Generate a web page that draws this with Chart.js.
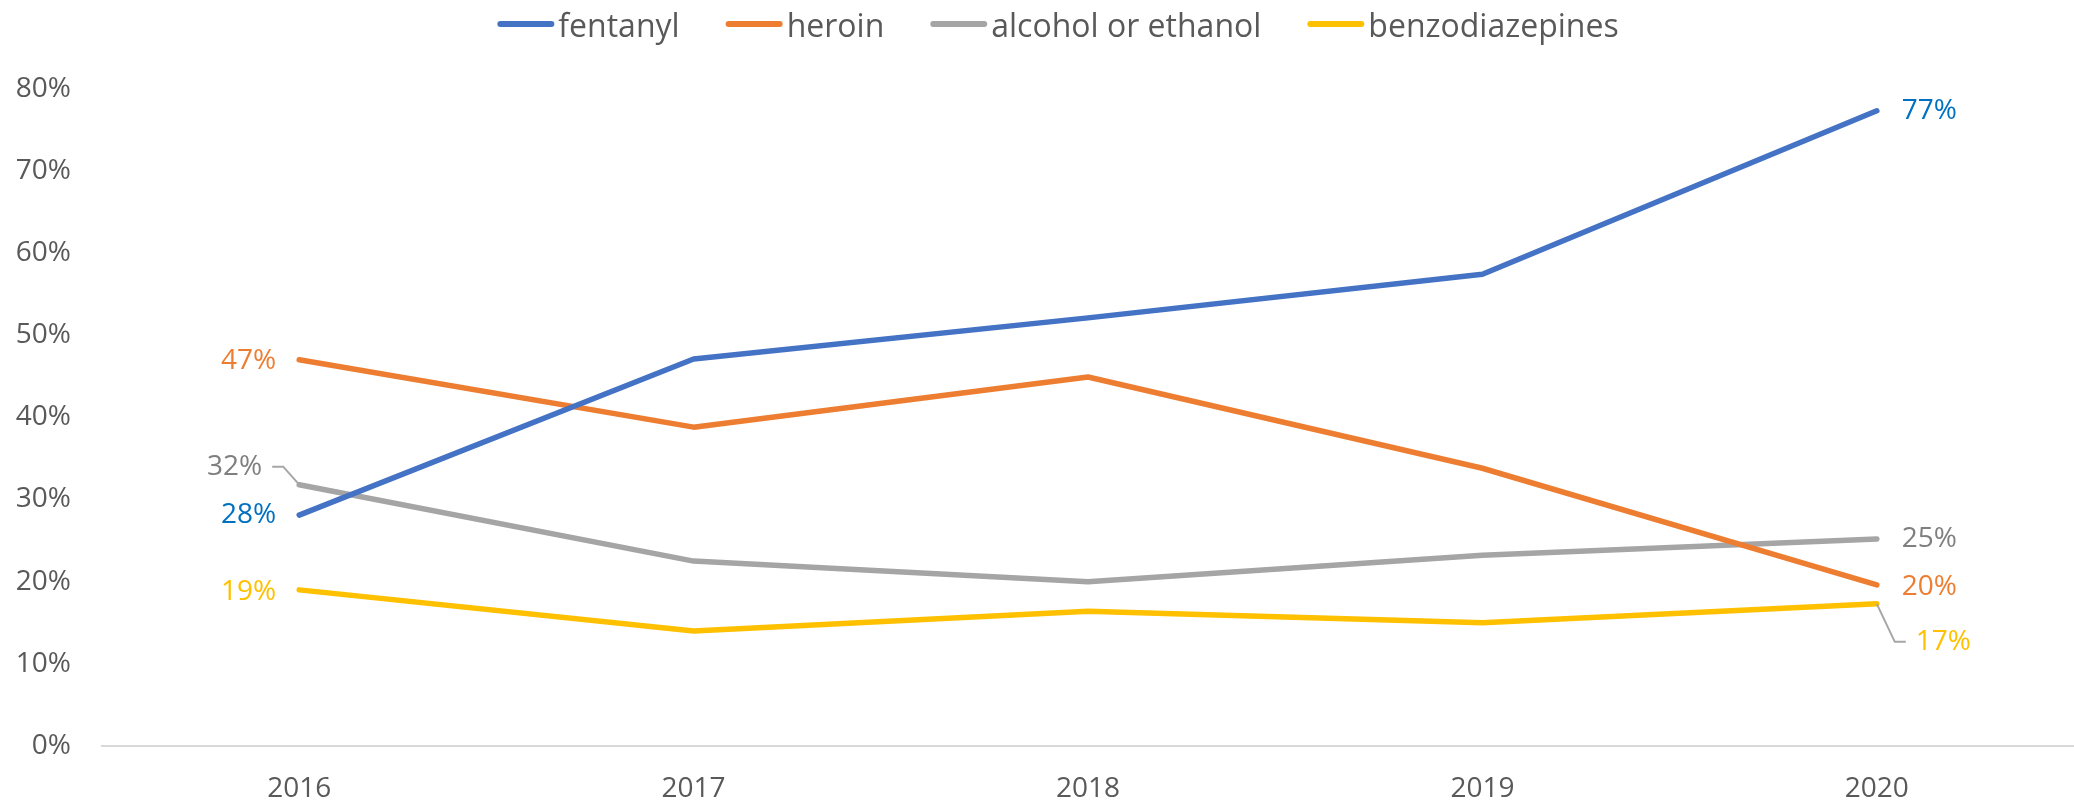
<!DOCTYPE html>
<html>
<head>
<meta charset="utf-8">
<script src="https://cdn.jsdelivr.net/npm/chart.js@4/dist/chart.umd.min.js"></script>
<style>
  html, body { margin: 0; padding: 0; background: #ffffff; }
  #wrap { width: 2074px; height: 804px; }
</style>
</head>
<body>
<div id="wrap"><canvas id="chart1"></canvas></div>
<script>
const years = ['2016', '2017', '2018', '2019', '2020'];
const fentanyl = [28.1, 47.1, 52.1, 57.4, 77.3];
const heroin = [47.0, 38.8, 44.9, 33.8, 19.6];
const alcohol = [31.8, 22.5, 20.0, 23.2, 25.2];
const benzos = [19.0, 14.0, 16.4, 15.0, 17.3];
const yTicks = [0, 10, 20, 30, 40, 50, 60, 70, 80];

const FONT = '"Open Sans", "Liberation Sans", sans-serif';
const TEXT_GRAY = '#595959';

// where the end labels sit relative to their point (first / last point)
const labelSpots = {
    fentanyl: { first: { dx: -23, dy: 0 }, last: { dx: 25, dy: 0 } },
    heroin: { first: { dx: -23, dy: 1 }, last: { dx: 25, dy: 2 } },
    alcohol: { first: { dx: -37, dy: -18, leader: true }, last: { dx: 25, dy: 0 } },
    benzos: { first: { dx: -23, dy: 2 }, last: { dx: 39, dy: 38, leader: true } }
};

function makeSet(key, label, data, color, labelColor) {
    return {
        key: key,
        label: label,
        data: data,
        borderColor: color,
        backgroundColor: color,
        labelColor: labelColor,
        borderWidth: 5.5,
        borderCapStyle: 'round',
        borderJoinStyle: 'round',
        pointRadius: 0,
        pointHoverRadius: 0,
        tension: 0,
        fill: false
    };
}

const endLabels = {
    id: 'endLabels',
    afterDatasetsDraw(chart) {
        const ctx = chart.ctx;
        ctx.save();
        ctx.font = '28px ' + FONT;
        ctx.textBaseline = 'middle';
        chart.data.datasets.forEach((ds, i) => {
            const meta = chart.getDatasetMeta(i);
            const spots = labelSpots[ds.key];
            [['first', 0], ['last', ds.data.length - 1]].forEach(([which, idx]) => {
                const pt = meta.data[idx];
                const spot = spots[which];
                const tx = pt.x + spot.dx;
                const ty = pt.y + spot.dy;
                if (spot.leader) {
                    ctx.strokeStyle = '#A6A6A6';
                    ctx.lineWidth = 2;
                    ctx.beginPath();
                    if (which === 'first') {
                        ctx.moveTo(tx + 10, ty);
                        ctx.lineTo(tx + 21, ty);
                    } else {
                        ctx.moveTo(tx - 10, ty);
                        ctx.lineTo(tx - 21, ty);
                    }
                    ctx.lineTo(pt.x, pt.y);
                    ctx.stroke();
                }
                ctx.fillStyle = ds.labelColor;
                ctx.textAlign = which === 'first' ? 'right' : 'left';
                ctx.fillText(Math.round(ds.data[idx]) + '%', tx, ty);
            });
        });
        ctx.restore();
    }
};

const lineLegend = {
    id: 'lineLegend',
    afterDraw(chart) {
        const ctx = chart.ctx;
        ctx.save();
        ctx.font = '32px ' + FONT;
        const swatch = 57, gapText = 4, gapItem = 46;
        const widths = chart.data.datasets.map(ds => swatch + gapText + ctx.measureText(ds.label).width);
        const total = widths.reduce((a, b) => a + b, 0) + gapItem * (widths.length - 1);
        let x = 1058 - total / 2;
        chart.data.datasets.forEach((ds, i) => {
            ctx.strokeStyle = ds.borderColor;
            ctx.lineWidth = 6;
            ctx.lineCap = 'round';
            ctx.beginPath();
            ctx.moveTo(x + 3, 24);
            ctx.lineTo(x + swatch - 3, 24);
            ctx.stroke();
            ctx.fillStyle = TEXT_GRAY;
            ctx.textAlign = 'left';
            ctx.textBaseline = 'alphabetic';
            ctx.fillText(ds.label, x + swatch + gapText, 37);
            x += widths[i] + gapItem;
        });
        ctx.restore();
    }
};

const ctx = document.getElementById('chart1').getContext('2d');
new Chart(ctx, {
    type: 'line',
    data: {
        labels: years,
        datasets: [
            makeSet('fentanyl', 'fentanyl', fentanyl, '#4472C4', '#0070C0'),
            makeSet('heroin', 'heroin', heroin, '#ED7D31', '#ED7D31'),
            makeSet('alcohol', 'alcohol or ethanol', alcohol, '#A5A5A5', '#7F7F7F'),
            makeSet('benzos', 'benzodiazepines', benzos, '#FFC000', '#FFC000')
        ]
    },
    options: {
        responsive: true,
        maintainAspectRatio: false,
        animation: false,
        layout: {
            padding: { top: 88.6, left: 0, right: -7, bottom: 0 }
        },
        scales: {
            x: {
                offset: true,
                grid: { display: false, drawTicks: false },
                border: { display: true, color: '#D9D9D9', width: 2 },
                ticks: {
                    color: TEXT_GRAY,
                    padding: 26,
                    font: { family: FONT, size: 28 },
                    maxRotation: 0
                },
                afterFit(scale) { scale.height = 58; }
            },
            y: {
                min: 0,
                max: 80,
                afterBuildTicks(scale) { scale.ticks = yTicks.map(v => ({ value: v })); },
                grid: { display: false, drawTicks: false },
                border: { display: false },
                ticks: {
                    color: TEXT_GRAY,
                    padding: 31,
                    font: { family: FONT, size: 28 },
                    callback: v => v + '%'
                },
                afterFit(scale) { scale.width = 102; }
            }
        },
        plugins: {
            legend: { display: false },
            tooltip: { enabled: false }
        }
    },
    plugins: [endLabels, lineLegend]
});
</script>
</body>
</html>
